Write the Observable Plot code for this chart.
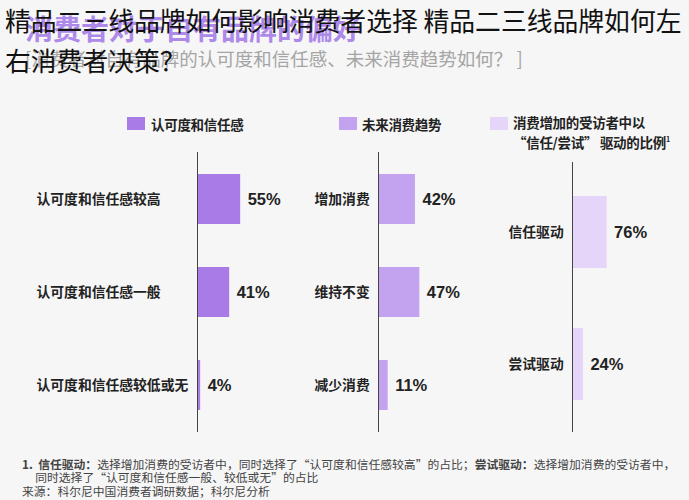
<!DOCTYPE html>
<html>
<head>
<meta charset="utf-8">
<script src="https://cdn.jsdelivr.net/npm/d3@7"></script>
<script src="https://cdn.jsdelivr.net/npm/@observablehq/plot@0.6"></script>
<style>
  html, body { margin: 0; padding: 0; background: #f6f6f6; }
  #root { position: relative; width: 689px; height: 500px; overflow: hidden; background: #f6f6f6;
          font-family: "Noto Sans CJK SC", "Noto Sans", sans-serif; }
  .abs { position: absolute; white-space: nowrap; }
  .panel { position: absolute; top: 140px; }
  .panel svg { background: transparent; }
</style>
</head>
<body>
<div id="root"></div>
<script>
// ---- data ----
const pageTitle = "精品二三线品牌如何影响消费者选择 精品二三线品牌如何左右消费者决策？";
const chartTitle = "消费者对于自有品牌的偏好";
const chartSubtitle = "[消费者对自有品牌的认可度和信任感、未来消费趋势如何？ ]";

const trustCats = ["认可度和信任感较高", "认可度和信任感一般", "认可度和信任感较低或无"];
const trustVals = [55, 41, 4];

const trendCats = ["增加消费", "维持不变", "减少消费"];
const trendVals = [42, 47, 11];

const driverCats = ["信任驱动", "尝试驱动"];
const driverVals = [76, 24];

const legendLabels = ["认可度和信任感", "未来消费趋势", "消费增加的受访者中以<br>“信任/尝试” 驱动的比例<sup style='font-size:7px'>1</sup>"];
const colors = ["#a97be6", "#c3a3f0", "#e5d5f9"];

const footLines = [
  "<b>1.&nbsp; 信任驱动：</b>选择增加消费的受访者中，同时选择了“认可度和信任感较高”的占比；<b>尝试驱动：</b>选择增加消费的受访者中，",
  "&nbsp;&nbsp;&nbsp;&nbsp; 同时选择了“认可度和信任感一般、较低或无”的占比",
  "来源：科尔尼中国消费者调研数据；科尔尼分析"
];

const root = document.getElementById("root");
function addDiv(html, css) {
  const d = document.createElement("div");
  d.className = "abs";
  d.innerHTML = html;
  Object.assign(d.style, css);
  root.appendChild(d);
  return d;
}

// purple chart title + grey subtitle (underneath overlay)
addDiv(chartTitle, {left: "25px", top: "14px", fontSize: "28px", lineHeight: "28px", fontWeight: "700", color: "#9c6ee8", opacity: "0.8"});
addDiv(chartSubtitle, {left: "25px", top: "48px", fontSize: "18.5px", lineHeight: "20px", color: "#a5a5a5"});
// overlay page title
addDiv(pageTitle.replace("左右", "左<br>右"), {left: "5px", top: "0px", fontSize: "25.8px", lineHeight: "40px", fontWeight: "400", color: "#111", whiteSpace: "nowrap"});

// legend
const legendPos = [{sq: 127, tx: 151}, {sq: 339, tx: 362}, {sq: 490, tx: 513}];
legendLabels.forEach((lab, i) => {
  addDiv("", {left: legendPos[i].sq + "px", top: "117px", width: "18px", height: "13px", background: colors[i]});
  const two = lab.includes("<br>");
  addDiv(lab, {left: legendPos[i].tx + "px", top: two ? "114px" : "115px", fontSize: "13.5px", lineHeight: two ? "17px" : "18px", fontWeight: "700", color: "#222", letterSpacing: "-0.3px"});
});

// panels
const labelFont = "Noto Sans CJK SC, sans-serif";
const valueFont = "Liberation Sans, Arial, sans-serif";

function panel({cats, vals, color, left, width, axisX, pxPerPct, labelX, top, bottom, pad, ruleTop, ruleBottom}) {
  const data = cats.map((c, i) => ({c, v: vals[i]}));
  const marginLeft = axisX - left;
  const marginRight = width - marginLeft - pxPerPct * 100;
  const svgTop = 140, svgH = 300;
  const chart = Plot.plot({
    width, height: svgH,
    marginLeft, marginRight,
    marginTop: top - svgTop, marginBottom: svgTop + svgH - bottom,
    style: {background: "transparent", overflow: "visible"},
    x: {domain: [0, 100], axis: null},
    y: {domain: cats, paddingInner: pad, paddingOuter: pad / 2, axis: null},
    marks: [
      Plot.barX(data, {x: "v", y: "c", fill: color}),
      Plot.text(data, {y: "c", text: "c", frameAnchor: "left", dx: labelX - axisX, textAnchor: "start",
        fontFamily: labelFont, fontWeight: 700, fontSize: 13.8, fill: "#222"}),
      Plot.text(data, {x: "v", y: "c", text: d => d.v + "%", dx: 7, textAnchor: "start",
        fontFamily: valueFont, fontWeight: 700, fontSize: 16.5, fill: "#222"}),
      Plot.ruleX([0], {stroke: "#444", strokeWidth: 1, insetTop: -ruleTop, insetBottom: -ruleBottom})
    ]
  });
  const wrap = document.createElement("div");
  wrap.className = "panel";
  wrap.style.left = left + "px";
  wrap.appendChild(chart);
  root.appendChild(wrap);
}

panel({cats: trustCats, vals: trustVals, color: colors[0], left: 0, width: 300, axisX: 197, pxPerPct: 0.785,
  labelX: 36, top: 152, bottom: 432, pad: 0.465, ruleTop: 0, ruleBottom: 0});
panel({cats: trendCats, vals: trendVals, color: colors[1], left: 300, width: 190, axisX: 378, pxPerPct: 0.88,
  labelX: 314, top: 152, bottom: 432, pad: 0.465, ruleTop: 0, ruleBottom: 0});
panel({cats: driverCats, vals: driverVals, color: colors[2], left: 490, width: 199, axisX: 572, pxPerPct: 0.455,
  labelX: 508, top: 166, bottom: 430, pad: 0.4545, ruleTop: 4, ruleBottom: 2});

// footnote
footLines.forEach((t, i) => {
  addDiv(t, {left: "22px", top: (456.5 + i * 13.5) + "px", fontSize: "11.8px", lineHeight: "13px", color: "#444"});
});
</script>
</body>
</html>
